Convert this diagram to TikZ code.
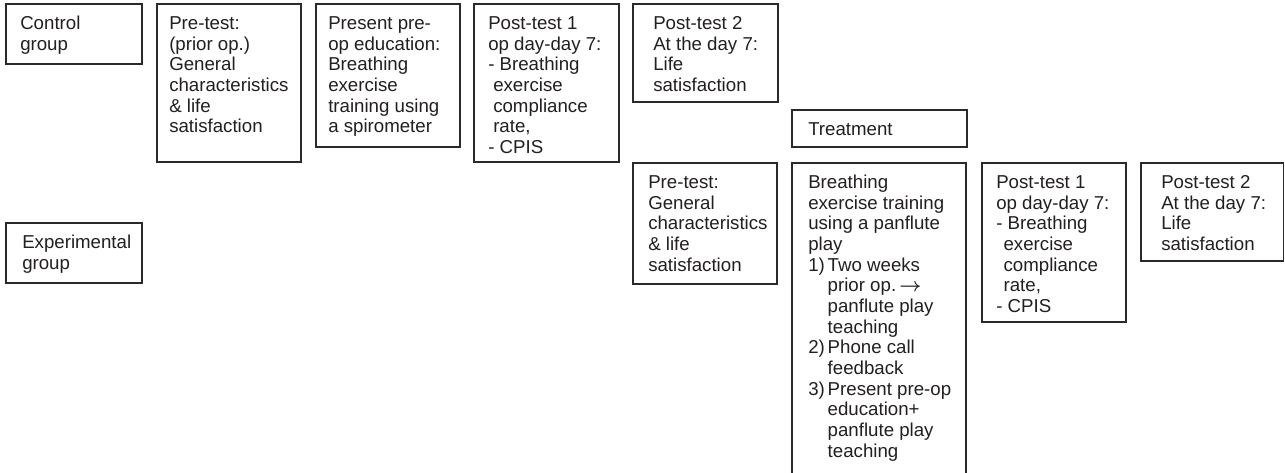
\documentclass[tikz,border=0pt]{standalone}
\usepackage{fontspec}
\setmainfont{Liberation Sans}
\definecolor{ink}{HTML}{231F20}
\definecolor{edge}{HTML}{2A2A2A}
\newcommand\fl{\rule{0pt}{11pt}}
\newcommand\ind[1]{\hspace*{#1}}
\newcommand\itm[1]{\makebox[14.6pt][l]{#1}}
\newcommand\gbox[7]{%
  \node[boxst, minimum width={0.75*(#4-#2)}, minimum height={0.75*(#5-#3)}] (#1) at (#2,#3) {};
  \node[txt] (#1t) at ([xshift={0.75*#6}, yshift={-0.75*10.5}]#1.north west) {\fl #7};
}
\begin{document}
\begin{tikzpicture}[x=0.75pt,y=-0.75pt,
  boxst/.style={draw=edge, line width=1.1pt, anchor=north west, inner sep=0pt, outer sep=0pt},
  txt/.style={anchor=north west, inner sep=0pt, align=left, text=ink,
    font=\fontsize{14}{15.5}\selectfont}]
\clip (0,0) rectangle (1285,472);
\fill[white] (0,0) rectangle (1285,472);
\gbox{cg}{6}{4}{142}{64}{14}{Control\\group}
\gbox{eg}{6}{223}{142}{283}{16}{Experimental\\group}
\gbox{pre1}{157}{4}{301}{162}{12}{Pre-test:\\(prior op.)\\General\\characteristics\\\& life\\satisfaction}
\gbox{pres}{316}{4}{460}{147}{12}{Present pre-\\op education:\\Breathing\\exercise\\training using\\a spirometer}
\gbox{postc}{474}{4}{619}{162}{14}{Post-test 1\\op day-day 7:\\- Breathing\\\ind{3.75pt}exercise\\\ind{3.75pt}compliance\\\ind{3.75pt}rate,\\- CPIS}
\gbox{posttc}{633}{4}{778}{102}{20}{Post-test 2\\At the day 7:\\Life\\satisfaction}
\gbox{treat}{792}{110}{967}{147}{16}{Treatment}
\gbox{pre2}{633}{163}{777}{284}{15}{Pre-test:\\General\\characteristics\\\& life\\satisfaction}
\gbox{breath}{792}{163}{966}{490}{16}{Breathing\\exercise training\\using a panflute\\play\\\itm{1)}Two weeks\\\ind{14.6pt}prior op.\,{\boldmath$\rightarrow$}\\\ind{14.6pt}panflute play\\\ind{14.6pt}teaching\\\itm{2)}Phone call\\\ind{14.6pt}feedback\\\itm{3)}Present pre-op\\\ind{14.6pt}education+\\\ind{14.6pt}panflute play\\\ind{14.6pt}teaching}
\gbox{poste}{982}{163}{1126}{322}{14}{Post-test 1\\op day-day 7:\\- Breathing\\\ind{5.5pt}exercise\\\ind{5.5pt}compliance\\\ind{5.5pt}rate,\\- CPIS}
\gbox{postte}{1141}{163}{1283.5}{261}{20}{Post-test 2\\At the day 7:\\Life\\satisfaction}
\end{tikzpicture}
\end{document}
